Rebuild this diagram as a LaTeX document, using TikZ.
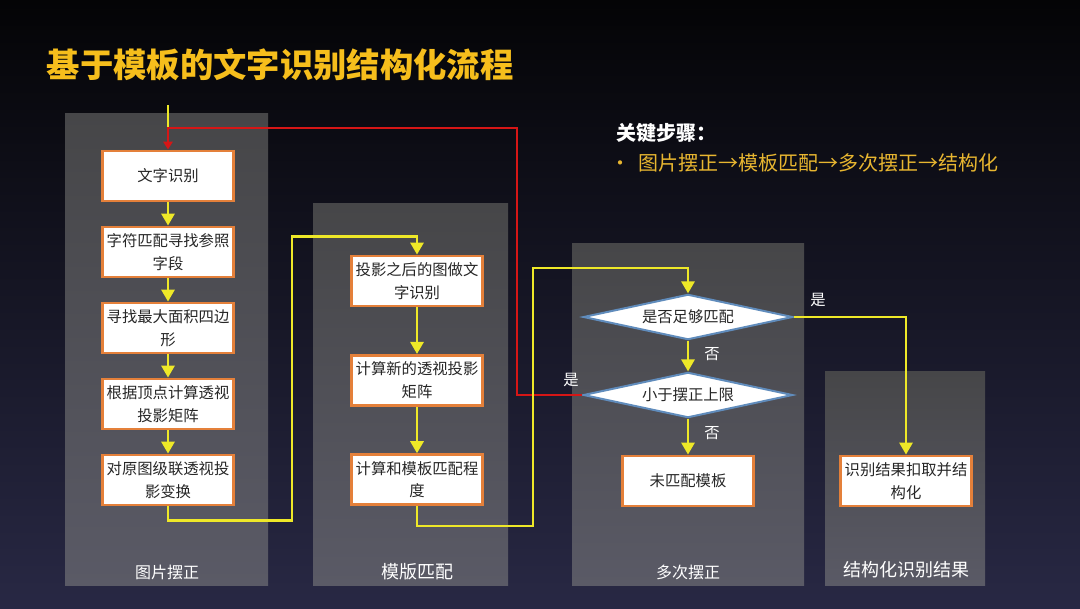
\documentclass[tikz,border=0pt]{standalone}
\usepackage{fontspec}
\setmainfont{Noto Sans CJK SC}
\usepackage{tikz}
\usetikzlibrary{arrows.meta,positioning,shapes.geometric}

\definecolor{boxline}{RGB}{228,128,58}
\definecolor{flowy}{RGB}{238,232,40}
\definecolor{flowr}{RGB}{214,22,22}
\definecolor{gold}{RGB}{246,190,28}
\definecolor{steps}{RGB}{232,182,48}
\definecolor{diamline}{RGB}{96,140,188}
\definecolor{bgtop}{RGB}{4,4,6}
\definecolor{bgmid}{RGB}{14,14,22}
\definecolor{bgbot}{RGB}{40,40,68}
\definecolor{pantop}{RGB}{70,70,72}
\definecolor{panbot}{RGB}{90,90,102}

\begin{document}
\begin{tikzpicture}
    [x=0.75pt,y=-0.75pt,>={Triangle[width=10pt,length=9pt]},on grid,
     box/.style={draw=boxline,line width=2.2pt,fill=white,minimum width=98pt,minimum height=37.5pt,
       inner sep=2pt,align=center,text=black!85,font=\fontsize{11.5}{17}\selectfont},
     test/.style={diamond,draw=diamline,line width=1.5pt,fill=white,minimum width=157pt,minimum height=34pt,
       inner sep=0pt,aspect=4.6,text=black!85,font=\fontsize{11.5}{17}\selectfont},
     panel/.style={top color=pantop,bottom color=panbot},
     plabel/.style={text=white!88,font=\fontsize{#1}{16}\selectfont},
     yn/.style={text=white!90,font=\fontsize{11.5}{14}\selectfont},
     flow/.style={draw=flowy,line width=1.6pt},
     back/.style={draw=flowr,line width=1.6pt}]

    \useasboundingbox (0,0) rectangle (1080,608);
    \shade[top color=bgtop,middle color=bgmid,bottom color=bgbot] (0,0) rectangle (1080,608);

    % columns
    \shade[panel] (65,113) rectangle (268,585);
    \shade[panel] (313,203) rectangle (508,585);
    \shade[panel] (572,243) rectangle (804,585);
    \shade[panel] (825,371) rectangle (985,585);

    \node[anchor=west,text=gold,font=\fontsize{25}{30}\selectfont\bfseries] (title) at (42,65) {基于模板的文字识别结构化流程};
    \node[anchor=west,text=white,font=\fontsize{15}{18}\selectfont\bfseries] (keys) at (612,133) {关键步骤：};
    \node[anchor=west,text=steps,font=\fontsize{15}{18}\selectfont] (keyline) at (606,163) {•\hspace{6pt}图片摆正→模板匹配→多次摆正→结构化};

    \node[box] (s1) at (168,176) {文字识别};
    \node[box] (s2) [below=57pt of s1] {字符匹配寻找参照\\字段};
    \node[box] (s3) [below=57pt of s2] {寻找最大面积四边\\形};
    \node[box] (s4) [below=57pt of s3] {根据顶点计算透视\\投影矩阵};
    \node[box] (s5) [below=57pt of s4] {对原图级联透视投\\影变换};

    \node[box] (m1) at (417,281) {投影之后的图做文\\字识别};
    \node[box] (m2) [below=74.5pt of m1] {计算新的透视投影\\矩阵};
    \node[box] (m3) [below=74.5pt of m2] {计算和模板匹配程\\度};

    \node[test] (d1) at (688,317) {是否足够匹配};
    \node[test] (d2) [below=58.5pt of d1] {小于摆正上限};
    \node[box] (u1) [below=64.5pt of d2] {未匹配模板};

    \node[box] (r1) at (906,481) {识别结果扣取并结\\构化};

    \node[plabel=12] (l1) at (167,572) {图片摆正};
    \node[plabel=13.5] (l2) at (417,572) {模版匹配};
    \node[plabel=12] (l3) at (688,572) {多次摆正};
    \node[plabel=13.5] (l4) at (906,570) {结构化识别结果};

    \node[yn] (n1) at (712,354) {否};
    \node[yn] (n2) at (712,433) {否};
    \node[yn] (y1) at (818,300) {是};
    \node[yn] (y2) at (571,380) {是};

    \coordinate (in) at (168,105);
    \coordinate (join) at (168,128);

    \foreach \a/\b in {s1/s2,s2/s3,s3/s4,s4/s5,m1/m2,m2/m3,d1/d2,d2/u1}
      \draw[flow,->] (\a) -- (\b);

    \draw[flow] (in) -- (join);
    \draw[back,->,>={Triangle[width=7pt,length=6pt]}] (d2.west) -- ++(-65,0) |- (join) -- (s1.north);
    \draw[flow,->] (s5.south) -- ++(0,14) -- ++(124,0) |- ([yshift=13.5pt]m1.north) -- (m1.north);
    \draw[flow,->] (m3.south) -- ++(0,20) -- ++(116,0) |- ([yshift=18.75pt]d1.north) -- (d1.north);
    \draw[flow,->] (d1.east) -| (r1.north);

  \end{tikzpicture}
\end{document}
